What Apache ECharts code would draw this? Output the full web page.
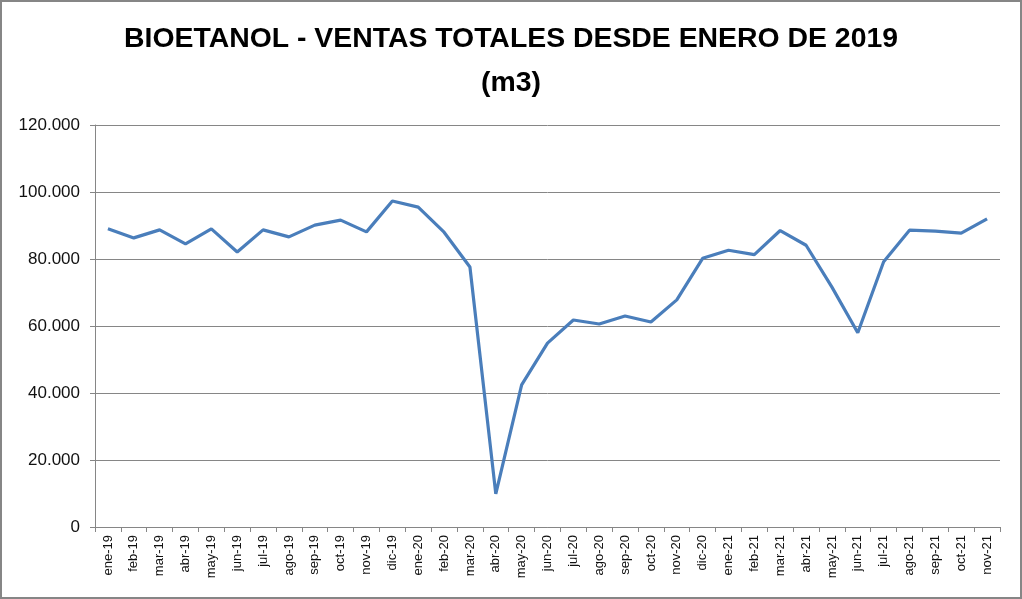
<!DOCTYPE html>
<html><head><meta charset="utf-8">
<script src="https://cdn.jsdelivr.net/npm/echarts@6/dist/echarts.min.js"></script>
<style>html,body{margin:0;padding:0;background:#fff}#c{width:1022px;height:599px}</style>
</head><body><div id="c"></div>
<script>
const categories = ["ene-19","feb-19","mar-19","abr-19","may-19","jun-19","jul-19","ago-19","sep-19","oct-19","nov-19","dic-19",
"ene-20","feb-20","mar-20","abr-20","may-20","jun-20","jul-20","ago-20","sep-20","oct-20","nov-20","dic-20",
"ene-21","feb-21","mar-21","abr-21","may-21","jun-21","jul-21","ago-21","sep-21","oct-21","nov-21"];
const ventas = [89000,86300,88700,84500,89000,82100,88700,86600,90100,91600,88100,97300,
95500,88000,77600,9900,42400,54900,61800,60600,63000,61200,67800,80200,
82600,81300,88500,84100,71600,58000,79200,88600,88300,87700,92000];
const yTicks = [0,20000,40000,60000,80000,100000,120000];

const chart = echarts.init(document.getElementById('c'));
chart.setOption({
  animation:false,
  backgroundColor:'#fff',
  graphic:[{type:'rect',shape:{x:1,y:1,width:1020,height:597},style:{fill:'none',stroke:'#868686',lineWidth:2},silent:true}],
  title:{
    text:'BIOETANOL - VENTAS TOTALES DESDE ENERO DE 2019\n(m3)',
    left:'center', top:12,
    textStyle:{fontFamily:'"Liberation Sans",Arial,sans-serif',fontWeight:'bold',fontSize:28.4,lineHeight:44,color:'#000'}
  },
  grid:{left:95,right:22,top:125,bottom:72,containLabel:false},
  xAxis:{
    type:'category',data:categories,boundaryGap:true,
    axisLine:{lineStyle:{color:'#868686',width:1}},
    axisTick:{show:true,length:5,alignWithLabel:false,interval:0,lineStyle:{color:'#868686'}},
    axisLabel:{interval:0,rotate:90,fontSize:13,color:'#111',fontFamily:'"Liberation Sans",sans-serif',margin:8}
  },
  yAxis:{
    type:'value',min:0,max:120000,interval:20000,
    axisLine:{show:true,lineStyle:{color:'#868686'}},
    axisTick:{show:true,length:5,lineStyle:{color:'#868686'}},
    splitLine:{lineStyle:{color:'#868686',width:1}},
    axisLabel:{fontSize:17,color:'#111',fontFamily:'"Liberation Sans",sans-serif',margin:15,
      formatter:v=>v===0?'0':v.toString().replace(/\B(?=(\d{3})+(?!\d))/g,'.')}
  },
  series:[{type:'line',data:ventas,symbol:'none',lineStyle:{color:'#4A7EBB',width:3.2},itemStyle:{color:'#4A7EBB'}}]
});
</script></body></html>
